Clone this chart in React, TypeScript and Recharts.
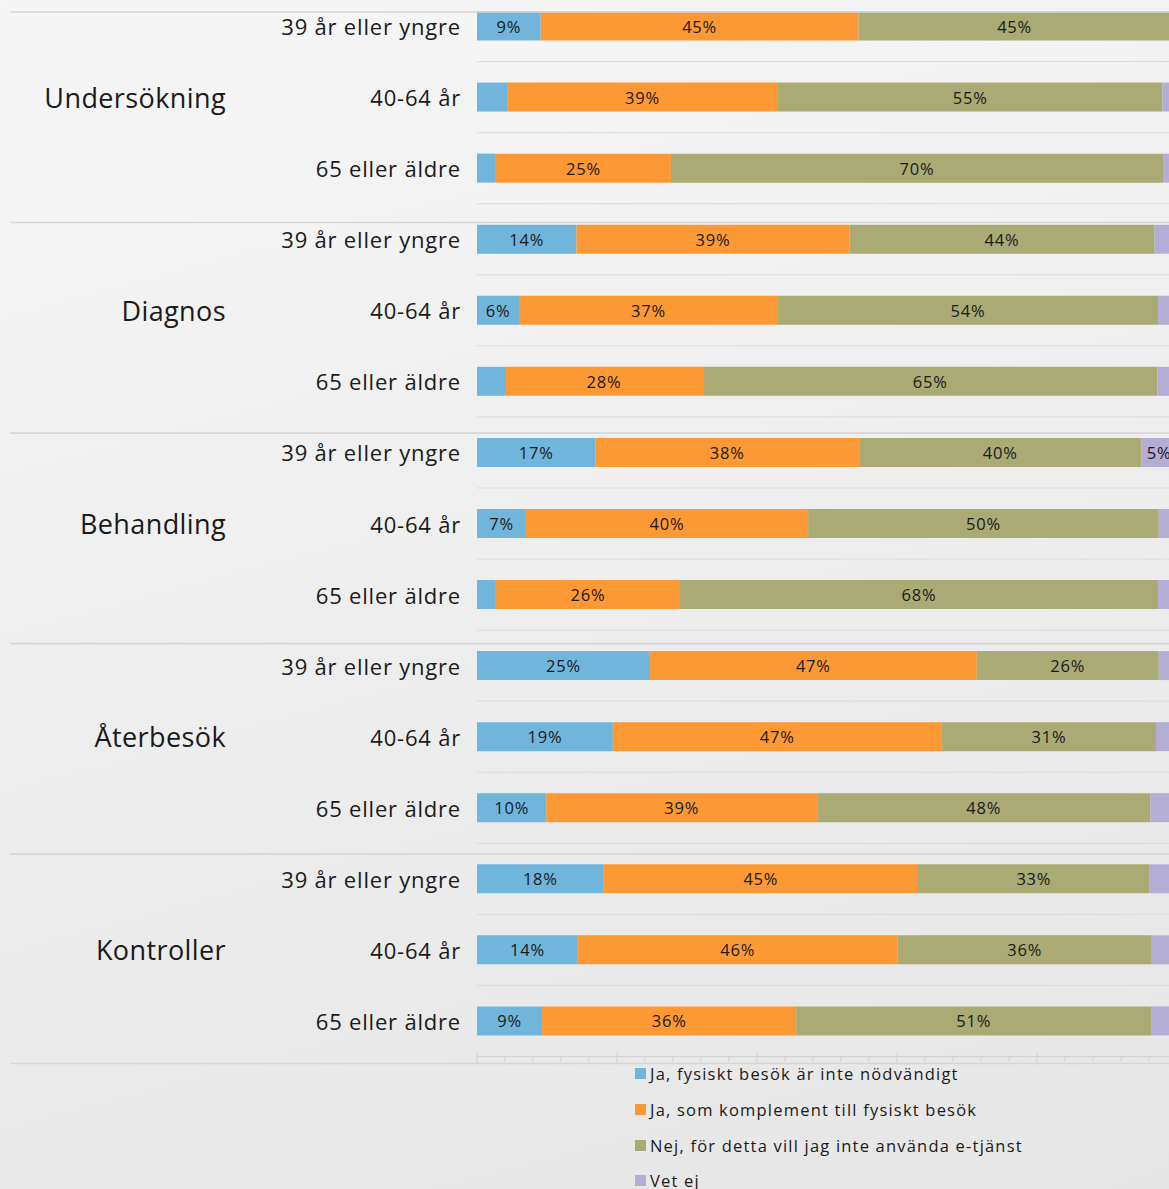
import React from "react";
import { BarChart, Bar, XAxis, YAxis, CartesianGrid, Legend, LabelList } from "recharts";

// Kategorier
const groups = ["Undersökning", "Diagnos", "Behandling", "Återbesök", "Kontroller"];
const ages = ["39 år eller yngre", "40-64 år", "65 eller äldre"];

// Serier (andel i %, en rad per grupp x ålder)
const seriesNames = [
  "Ja, fysiskt besök är inte nödvändigt",
  "Ja, som komplement till fysiskt besök",
  "Nej, för detta vill jag inte använda e-tjänst",
  "Vet ej",
];
const fysisktEjNodvandigt = [9.1, 4.3, 2.7, 14.2, 6.0, 4.0, 16.9, 7.0, 2.7, 24.7, 19.4, 9.9, 18.1, 14.4, 9.3];
const somKomplement = [45.4, 38.7, 25.0, 39.0, 37.0, 28.3, 37.7, 40.3, 26.3, 46.7, 47.0, 38.7, 44.9, 45.7, 36.3];
const nejEtjanst = [44.6, 54.9, 70.3, 43.6, 54.3, 64.9, 40.3, 50.1, 68.3, 26.0, 30.6, 47.6, 33.1, 36.3, 50.7];
const vetEj = [0.9, 2.1, 2.0, 3.2, 2.7, 2.8, 5.1, 2.6, 2.7, 2.6, 3.0, 3.8, 3.9, 3.6, 3.7];

const colors = ["#70b5dc", "#fd9935", "#a9aa74", "#b4add6"];
const axisTicks = [0, 4, 8, 12, 16, 20, 24, 28, 32, 36, 40, 44, 48, 52, 56, 60, 64, 68, 72, 76, 80, 84, 88, 92, 96, 100];

const rows = groups.flatMap((g, gi) =>
  ages.map((a, ai) => {
    const i = gi * 3 + ai;
    return {
      id: `${g}|${a}`,
      group: g,
      age: a,
      gi,
      ai,
      s0: fysisktEjNodvandigt[i],
      s1: somKomplement[i],
      s2: nejEtjanst[i],
      s3: vetEj[i],
    };
  })
);

const FONT = '"Open Sans", "Noto Sans", sans-serif';

const RowTick = (props: any) => {
  const { x, y, payload } = props;
  const row = rows.find((r) => r.id === payload.value);
  if (!row) return null;
  const sepY = y - (14 + 2.67 * row.gi);
  const isLast = row.gi === groups.length - 1 && row.ai === ages.length - 1;
  return (
    <g>
      <text x={x} y={y} textAnchor="end" dominantBaseline="central" fontSize={22} letterSpacing={0.8} fill="#1a1a1a" fontFamily={FONT}>
        {row.age}
      </text>
      {row.ai === 1 && (
        <text x={226} y={y} textAnchor="end" dominantBaseline="central" fontSize={27} letterSpacing={0.4} fill="#1a1a1a" fontFamily={FONT}>
          {row.group}
        </text>
      )}
      {row.ai === 0 && <line x1={10} x2={1185} y1={sepY} y2={sepY} stroke="#d6d6d6" strokeWidth={1.6} />}
      {isLast && <line x1={10} x2={1185} y1={y + 42.5} y2={y + 42.5} stroke="#d6d6d6" strokeWidth={1.6} />}
    </g>
  );
};

const AxisTick = (props: any) => {
  const { x, y, payload } = props;
  const major = payload.value % 20 === 0;
  return <line x1={x} x2={x} y1={major ? y - 4 : y} y2={major ? y + 7 : y + 5} stroke="#cfcfcf" strokeWidth={1} />;
};

const SegmentLabel = (props: any) => {
  const { x, y, width, height, value } = props;
  if (Math.round(value) < 5) return null;
  return (
    <text x={x + width / 2} y={y + height / 2} textAnchor="middle" dominantBaseline="central" fontSize={16.5} letterSpacing={0.8} fill="#1a1a1a" fontFamily={FONT}>
      {`${Math.round(value)}%`}
    </text>
  );
};

const LegendContent = (props: any) => {
  const { payload } = props;
  return (
    <div style={{ fontFamily: FONT }}>
      {(payload || []).map((p: any) => (
        <div key={p.value} style={{ height: 35.7, display: "flex", alignItems: "center" }}>
          <span style={{ width: 11, height: 11, background: p.color, display: "inline-block", marginRight: 4 }} />
          <span style={{ fontSize: 16.5, letterSpacing: 1.2, color: "#1a1a1a" }}>{p.value}</span>
        </div>
      ))}
    </div>
  );
};

export default function App() {
  const keys = ["s0", "s1", "s2", "s3"];
  return (
    <div
      style={{
        position: "absolute",
        left: 0,
        top: 0,
        width: 1169,
        height: 1189,
        overflow: "hidden",
        background: "linear-gradient(165deg, #f6f6f6 0%, #ececec 60%, #e6e6e6 100%)",
      }}
    >
      <div style={{ position: "absolute", left: 0, top: -30 }}>
        <BarChart
          width={1185}
          height={1230}
          data={rows}
          layout="vertical"
          margin={{ top: 20.5, right: 8, left: 0, bottom: 133.5 }}
          barSize={29}
        >
          <CartesianGrid
            horizontal
            vertical={false}
            stroke="#dadada"
            horizontalCoordinatesGenerator={({ offset }: any) =>
              rows.slice(0, -1).map((_, i) => offset.top + ((i + 1) * offset.height) / rows.length)
            }
          />
          <XAxis
            type="number"
            domain={[0, 100]}
            ticks={axisTicks}
            interval={0}
            height={10}
            tickSize={0}
            tickMargin={0}
            tick={<AxisTick />}
            axisLine={{ stroke: "#d2d2d2" }}
          />
          <YAxis
            type="category"
            dataKey="id"
            width={477}
            interval={0}
            tickLine={false}
            axisLine={false}
            tickSize={0}
            tickMargin={16}
            tick={<RowTick />}
          />
          <Legend
            layout="vertical"
            align="center"
            verticalAlign="middle"
            content={<LegendContent />}
            wrapperStyle={{ left: 635, top: 1086, width: 520, bottom: "auto" }}
          />
          {keys.map((k, i) => (
            <Bar key={k} dataKey={k} name={seriesNames[i]} stackId="a" fill={colors[i]} isAnimationActive={false}>
              <LabelList dataKey={k} content={<SegmentLabel />} />
            </Bar>
          ))}
        </BarChart>
      </div>
    </div>
  );
}
